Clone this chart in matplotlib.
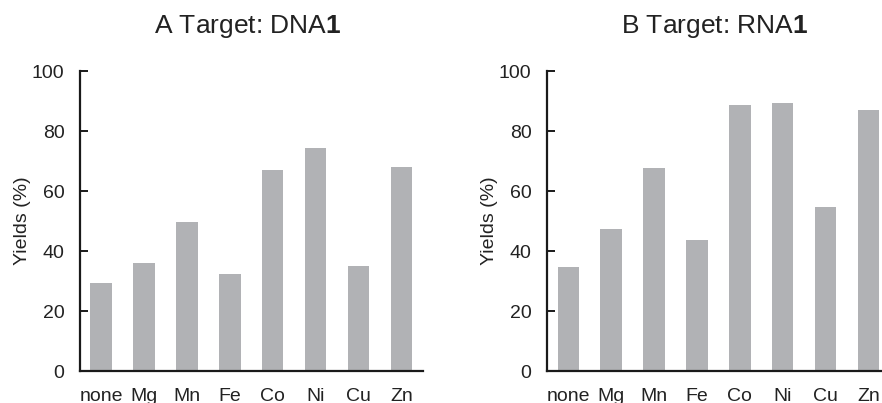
import matplotlib
matplotlib.use("Agg")
import matplotlib.pyplot as plt

plt.rcParams["font.family"] = ["Liberation Sans", "DejaVu Sans"]
plt.rcParams["mathtext.fontset"] = "custom"
plt.rcParams["mathtext.rm"] = "Liberation Sans"
plt.rcParams["mathtext.bf"] = "Liberation Sans:bold"

metals = ["none", "Mg", "Mn", "Fe", "Co", "Ni", "Cu", "Zn"]
yields_dna = [29.3, 36.0, 49.7, 32.3, 67.0, 74.3, 35.0, 68.0]
yields_rna = [34.7, 47.3, 67.7, 43.7, 88.7, 89.3, 54.7, 87.0]
titles = [r"A Target: DNA$\mathbf{1}$", r"B Target: RNA$\mathbf{1}$"]
yticks = [0, 20, 40, 60, 80, 100]

bar_color = "#b1b2b5"

fig = plt.figure(figsize=(8.82, 4.03), dpi=100)
ax_a = fig.add_axes([0.0904, 0.0794, 0.389, 0.744])
ax_b = fig.add_axes([0.620, 0.0794, 0.389, 0.744])

for ax, vals, title in zip([ax_a, ax_b], [yields_dna, yields_rna], titles):
    x = range(len(metals))
    ax.bar(x, vals, width=0.5, color=bar_color)
    ax.set_xlim(-0.5, 7.5)
    ax.set_ylim(0, 100)
    ax.set_xticks(list(x))
    ax.set_xticklabels(metals, fontsize=14, color="#222222")
    ax.set_yticks(yticks)
    ax.tick_params(axis="y", direction="in", length=6, width=1.4,
                   labelsize=14, pad=11, color="#1a1a1a", labelcolor="#222222")
    ax.tick_params(axis="x", length=0, pad=12)
    for side in ["top", "right"]:
        ax.spines[side].set_visible(False)
    for side in ["left", "bottom"]:
        ax.spines[side].set_linewidth(1.6)
        ax.spines[side].set_color("#1a1a1a")
    ax.set_ylabel("Yields (%)", fontsize=14, color="#222222")
    ax.yaxis.set_label_coords(-0.143, 0.5)
    # title centred above the axes
    pos = ax.get_position()
    fig.text(pos.x0 + pos.width / 2 - 4 / 882, 1 - 27 / 403, title, fontsize=19,
             ha="center", va="center", color="#222222")

fig.savefig("out.png", dpi=100)
